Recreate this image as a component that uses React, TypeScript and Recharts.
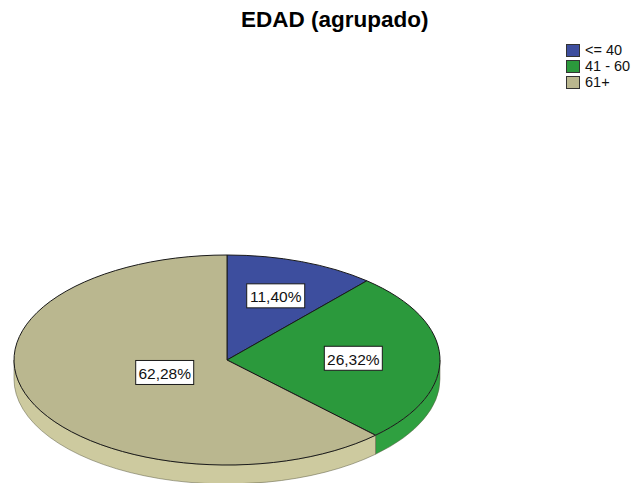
import React from 'react';
import { Cell, Legend, Pie, PieChart } from 'recharts';

const CATEGORIES = ['<= 40', '41 - 60', '61+'];
const PERCENTS = [11.4, 26.32, 62.28];

const COLORS = ['#3d4e9e', '#2b993c', '#bab78f'];
const SIDE_COLORS = ['#34438a', '#2fa040', '#cdca9f'];

const FONT = '"Liberation Sans", Arial, Helvetica, sans-serif';
const TILT = 105 / 213;
const DEPTH = 19;
const RAD = Math.PI / 180;

const data = CATEGORIES.map((name, i) => ({ name, value: PERCENTS[i] }));

const fmt = (v: number) => `${v.toFixed(2).replace('.', ',')}%`;

function Slice3D(props: any) {
  const { cx, cy, outerRadius: R, startAngle, endAngle, fill } = props;
  const name = props.payload?.name ?? props.name;
  const idx = Math.max(0, CATEGORIES.indexOf(name));
  const ry = R * TILT;
  const pt = (a: number, dy = 0) => [cx + R * Math.cos(a * RAD), cy - ry * Math.sin(a * RAD) + dy];

  // visible side: the part of the arc on the lower half of the ellipse
  const lo = Math.min(startAngle, endAngle);
  const hi = Math.max(startAngle, endAngle);
  const sides: string[] = [];
  for (let k = -2; k <= 1; k++) {
    const a = Math.max(lo, -180 + 360 * k);
    const b = Math.min(hi, 360 * k);
    if (b - a > 0.01) {
      const [x1, y1] = pt(b);
      const [x2, y2] = pt(a);
      sides.push(
        `M${x1},${y1} A${R},${ry} 0 0 1 ${x2},${y2} L${x2},${y2 + DEPTH} A${R},${ry} 0 0 0 ${x1},${y1 + DEPTH} Z`,
      );
    }
  }

  const [sx, sy] = pt(startAngle);
  const [ex, ey] = pt(endAngle);
  const large = hi - lo > 180 ? 1 : 0;
  const sweep = startAngle > endAngle ? 1 : 0;
  const top = `M${cx},${cy} L${sx},${sy} A${R},${ry} 0 ${large} ${sweep} ${ex},${ey} Z`;

  return (
    <g>
      {sides.map((d, i) => (
        <path key={i} d={d} fill={SIDE_COLORS[idx]} stroke="#5a5a40" strokeWidth={0.5} />
      ))}
      <path d={top} fill={fill} stroke="#1a1a1a" strokeWidth={1} />
    </g>
  );
}

function renderLabel(props: any) {
  const { cx, cy, outerRadius: R, startAngle, endAngle, value } = props;
  const mid = ((startAngle + endAngle) / 2) * RAD;
  const half = (Math.abs(startAngle - endAngle) / 2) * RAD;
  const d = (2 * R * Math.sin(half)) / (3 * half);
  const x = cx + d * Math.cos(mid);
  const y = cy - d * TILT * Math.sin(mid);
  const w = 58;
  const h = 24;
  return (
    <g>
      <rect x={x - w / 2} y={y - h / 2} width={w} height={h} fill="#fff" stroke="#1a1a1a" strokeWidth={1} />
      <text x={x} y={y + 1} textAnchor="middle" dominantBaseline="central" fontFamily={FONT} fontSize={15.5} fill="#111">
        {fmt(value)}
      </text>
    </g>
  );
}

function LegendBox() {
  return (
    <div style={{ fontFamily: FONT, fontSize: 14.5, color: '#111' }}>
      {CATEGORIES.map((c, i) => (
        <div key={c} style={{ display: 'flex', alignItems: 'center', height: 16 }}>
          <span
            style={{
              width: 14,
              height: 13,
              boxSizing: 'border-box',
              background: COLORS[i],
              border: '1px solid #333',
              marginRight: 5,
              display: 'inline-block',
            }}
          />
          <span style={{ lineHeight: '16px' }}>{c}</span>
        </div>
      ))}
    </div>
  );
}

export default function App() {
  return (
    <div style={{ position: 'absolute', left: 0, top: 0, width: 637, height: 483, background: '#fff', overflow: 'hidden' }}>
      <div
        style={{
          position: 'absolute',
          left: 241,
          top: 9,
          fontFamily: FONT,
          fontWeight: 'bold',
          fontSize: 22.5,
          lineHeight: 1,
          color: '#000',
          whiteSpace: 'nowrap',
        }}
      >
        EDAD (agrupado)
      </div>
      <PieChart width={637} height={483} margin={{ top: 0, right: 0, bottom: 0, left: 0 }}>
        <Legend
          content={<LegendBox />}
          layout="vertical"
          align="right"
          verticalAlign="top"
          wrapperStyle={{ position: 'absolute', left: 566, top: 42, width: 'auto' }}
        />
        <Pie
          data={data}
          dataKey="value"
          nameKey="name"
          cx={227}
          cy={360}
          outerRadius={213}
          startAngle={90}
          endAngle={-270}
          shape={Slice3D}
          label={renderLabel}
          labelLine={false}
          stroke="#1a1a1a"
          isAnimationActive={false}
        >
          {data.map((d, i) => (
            <Cell key={d.name} fill={COLORS[i]} />
          ))}
        </Pie>
      </PieChart>
    </div>
  );
}
